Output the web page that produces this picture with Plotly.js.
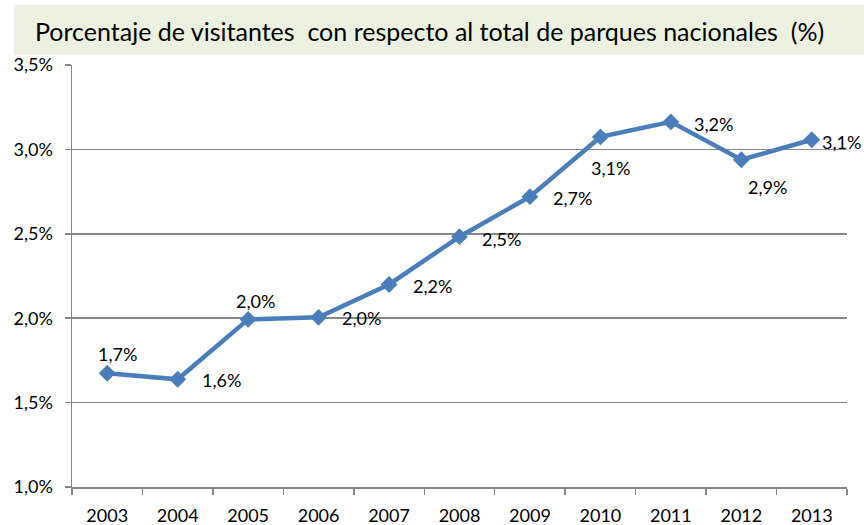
<!DOCTYPE html>
<html>
<head>
<meta charset="utf-8">
<script src="https://cdn.plot.ly/plotly-3.0.1.min.js"></script>
<style>
  body { margin: 0; background: #fff; }
  #plot { width: 864px; height: 525px; }
</style>
</head>
<body>
<div id="plot"></div>
<script>
// años y porcentaje de visitantes
let years = ['2003', '2004', '2005', '2006', '2007', '2008', '2009', '2010', '2011', '2012', '2013'];
let pct = [1.674, 1.638, 1.993, 2.005, 2.20, 2.483, 2.72, 3.074, 3.163, 2.939, 3.057];
let pctLabels = ['1,7%', '1,6%', '2,0%', '2,0%', '2,2%', '2,5%', '2,7%', '3,1%', '3,2%', '2,9%', '3,1%'];

// desplazamiento de cada etiqueta (px) respecto al punto
let labelDx = [10, 44, 7, 43, 43, 42, 43, 10, 43, 26, 30];
let labelDy = [19, -1, 18, -1, -2, -2, -1, -31, -2, -27, -2];

let fontFam = 'Lato, "Open Sans", sans-serif';

let trace = {
  x: years,
  y: pct,
  type: 'scatter',
  mode: 'lines+markers',
  line: { color: '#4a7ebb', width: 4.5 },
  marker: { symbol: 'diamond', size: 13, color: '#4a7ebb' },
  hoverinfo: 'none'
};

// en un eje de categorías la anotación usa el índice de la categoría
let annotations = years.map(function (yr, i) {
  return {
    x: i, y: pct[i], xref: 'x', yref: 'y',
    text: pctLabels[i], showarrow: false,
    xshift: labelDx[i], yshift: labelDy[i],
    font: { family: fontFam, size: 18, color: '#000' }
  };
});

let layout = {
  width: 864,
  height: 525,
  margin: { l: 72, r: 17, t: 65, b: 38 },
  paper_bgcolor: '#fff',
  plot_bgcolor: '#fff',
  showlegend: false,
  separators: ',.',
  font: { family: fontFam, size: 18, color: '#000' },
  title: {
    text: 'Porcentaje de visitantes  con respecto al total de parques nacionales  (%)',
    font: { family: fontFam, size: 25, color: '#000' },
    xref: 'container', yref: 'container',
    x: 35 / 864, xanchor: 'left',
    y: 1 - 32 / 525, yanchor: 'middle'
  },
  shapes: [{
    type: 'rect', xref: 'paper', yref: 'paper', layer: 'below',
    x0: -0.0748, x1: 1.03, y0: 1.0237, y1: 1.142,
    fillcolor: '#ebf1de', line: { width: 0 }
  }],
  xaxis: {
    type: 'category',
    range: [-0.5, years.length - 0.5],
    showgrid: false,
    showline: true, linecolor: '#868686', linewidth: 1.5,
    ticks: 'outside', ticklen: 6, tickcolor: '#868686', tickwidth: 1.5,
    tickson: 'boundaries',
    tickangle: 0,
    ticklabelstandoff: 12,
    tickfont: { family: fontFam, size: 18, color: '#000' },
    fixedrange: true
  },
  yaxis: {
    range: [1.0, 3.5],
    dtick: 0.5,
    tick0: 1.0,
    tickformat: '.1f',
    ticksuffix: '%',
    showgrid: true, gridcolor: '#868686', gridwidth: 1.5,
    zeroline: false,
    showline: true, linecolor: '#868686', linewidth: 1.5,
    ticks: 'outside', ticklen: 6, tickcolor: '#868686', tickwidth: 1.5,
    ticklabelstandoff: 8,
    tickfont: { family: fontFam, size: 18, color: '#000' },
    fixedrange: true
  },
  annotations: annotations
};

Plotly.newPlot('plot', [trace], layout, { displayModeBar: false, staticPlot: true });
</script>
</body>
</html>
